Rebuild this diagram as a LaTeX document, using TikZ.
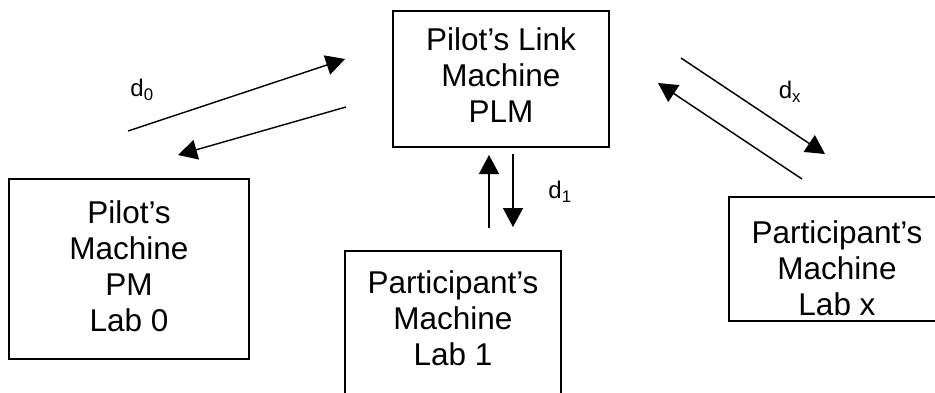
\documentclass[tikz,border=0pt]{standalone}
\usepackage{fontspec}
\setmainfont{Liberation Sans}
\usetikzlibrary{arrows.meta}
\begin{document}
\begin{tikzpicture}[x=1pt,y=-1pt,
  box/.style={draw, line width=1.4pt, inner sep=0pt},
  txt/.style={align=center, inner sep=0pt, font=\fontsize{31.5}{36}\selectfont},
  lbl/.style={inner sep=0pt, font=\fontsize{24}{28}\selectfont},
  link/.style={line width=1.4pt, -{Triangle[length=19pt,width=20pt]}}]
\useasboundingbox (0,0) rectangle (935,392);
% boxes
\node[box, minimum width=216pt, minimum height=136pt] (plm) at (501,79) {};
\node[box, minimum width=240pt, minimum height=180pt] (pm) at (129,269) {};
\node[box, minimum width=216pt, minimum height=148pt] (lab1) at (453,325) {};
\node[box, minimum width=216pt, minimum height=124pt] (labx) at (837,259) {};
% texts
\node[txt] (plmtext) at (501,75.5) {Pilot’s Link\\Machine\\PLM};
\node[txt] (pmtext) at (129,266.5) {Pilot’s\\Machine\\PM\\Lab 0};
\node[txt] (lab1text) at (453,318.5) {Participant’s\\Machine\\Lab 1};
\node[txt] (labxtext) at (837,268.5) {Participant’s\\Machine\\Lab x};
% connector ends
\coordinate (a0s) at (128,131); \coordinate (a0e) at (345,59);
\coordinate (b0s) at (346,107); \coordinate (b0e) at (178,155);
\coordinate (a1s) at (489,228); \coordinate (a1e) at (489,155);
\coordinate (b1s) at (513,154); \coordinate (b1e) at (513,227);
\coordinate (axs) at (681,58);  \coordinate (axe) at (825,154);
\coordinate (bxs) at (802,179); \coordinate (bxe) at (658,83);
\draw[link] (a0s) -- (a0e);
\draw[link] (b0s) -- (b0e);
\draw[link] (a1s) -- (a1e);
\draw[link] (b1s) -- (b1e);
\draw[link] (axs) -- (axe);
\draw[link] (bxs) -- (bxe);
% labels
\node[lbl] (d0) at (142,90) {d\textsubscript{0}};
\node[lbl] (d1) at (560,192) {d\textsubscript{1}};
\node[lbl] (dx) at (790,92) {d\textsubscript{x}};
\end{tikzpicture}
\end{document}
